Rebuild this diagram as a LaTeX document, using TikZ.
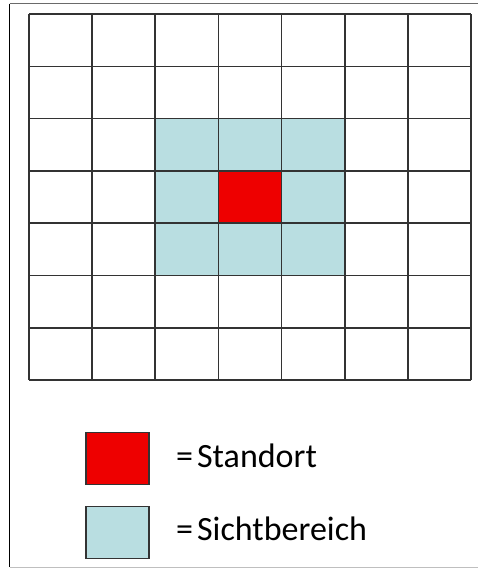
\documentclass[tikz,border=0pt]{standalone}
\usepackage{fontspec}
\setmainfont{Carlito}
\usepackage{tikz}
\usetikzlibrary{positioning}
\definecolor{cRed}{HTML}{EE0000}
\definecolor{cSight}{HTML}{B9DEE1}
\definecolor{cLine}{HTML}{333333}
\definecolor{cFrame}{HTML}{6A6A6A}
\tikzset{
  gridln/.style={draw=cLine, line width=1.6pt},
  key/.style={draw=cLine, line width=1.2pt, minimum width=63pt,
              minimum height=52pt, inner sep=0pt},
  lbl/.style={font=\fontsize{34}{40}\selectfont, inner sep=0pt, anchor=base west}
}

\begin{document}
\begin{tikzpicture}[x=1pt, y=-1pt]
\useasboundingbox (0,0) rectangle (478,568);
% frame
\draw[black, line width=1.5pt] (9.5,3.5) -- (9.5,567);
\draw[cFrame, line width=1.4pt] (9.5,3.5) -- (478,3.5);
\draw[black!25, line width=1pt] (9.5,567) -- (478,567);
% grid: 7 x 7 cells
\def\gx{29}\def\gy{14}\def\cw{63.14}\def\rh{52.3}
\fill[cSight] (\gx+2*\cw,\gy+2*\rh) rectangle (\gx+5*\cw,\gy+5*\rh);
\fill[cRed] (\gx+3*\cw,\gy+3*\rh) rectangle (\gx+4*\cw,\gy+4*\rh);
\foreach \i in {0,...,7}{
  \draw[gridln] (\gx+\i*\cw,\gy) -- (\gx+\i*\cw,\gy+7*\rh);
  \draw[gridln] (\gx,\gy+\i*\rh) -- (\gx+7*\cw,\gy+\i*\rh);
}
% legend
\node[key, fill=cRed] (kStand) at (117.5,458.5) {};
\node[key, fill=cSight, below=20.5pt of kStand] (kSight) {};
\node[lbl] (tStand) at (176,467) {=\hspace{4pt}Standort};
\node[lbl] (tSight) at (176,540) {=\hspace{4pt}Sichtbereich};
\end{tikzpicture}
\end{document}
